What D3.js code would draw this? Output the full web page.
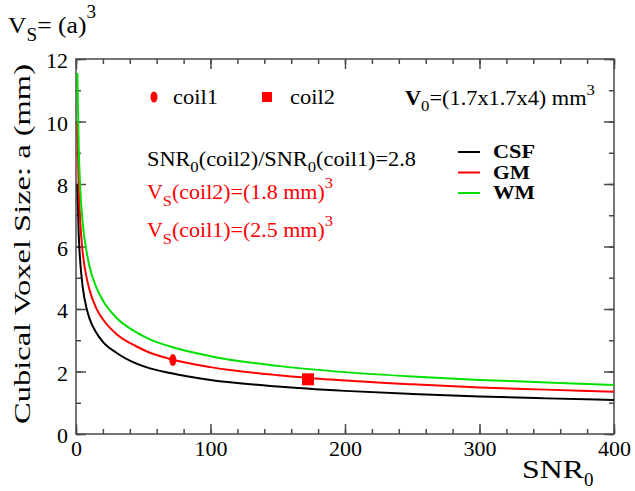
<!DOCTYPE html>
<html>
<head>
<meta charset="utf-8">
<script src="https://cdn.jsdelivr.net/npm/d3@7"></script>
<style>
  body { margin: 0; background: #fff; }
  text { font-family: "Liberation Serif", "Times New Roman", serif; }
</style>
</head>
<body>
<svg></svg>
<script>
let width = 635;
let height = 491;
let svg = d3.select("svg")
            .attr("width", width)
            .attr("height", height);

// values
let snr = [1, 2, 3, 5, 8, 10, 15, 20, 30, 45, 55, 70, 100, 150, 200, 250, 300, 350, 400];
let csf = [8.0, 6.4, 5.6, 4.7, 4.0, 3.7, 3.25, 2.95, 2.6, 2.25, 2.1, 1.95, 1.73, 1.52, 1.38, 1.28, 1.2, 1.14, 1.09];
let gm  = [9.95, 7.9, 6.9, 5.8, 4.98, 4.62, 4.03, 3.67, 3.2, 2.8, 2.6, 2.4, 2.14, 1.88, 1.71, 1.59, 1.49, 1.42, 1.35];
let wm  = [11.55, 9.2, 8.0, 6.75, 5.8, 5.37, 4.7, 4.27, 3.72, 3.25, 3.03, 2.8, 2.49, 2.18, 1.98, 1.84, 1.73, 1.65, 1.57];
let coil1 = [72, 2.37];
let coil2 = [172.5, 1.75];
let xTicks = [0, 100, 200, 300, 400];
let yTicks = [0, 2, 4, 6, 8, 10, 12];

let series = [
  { name: "CSF", color: "#000000", values: csf },
  { name: "GM",  color: "#ff0000", values: gm },
  { name: "WM",  color: "#00e000", values: wm }
];

let padLeft = 76, padRight = 614, padTop = 59, padBottom = 434;

let xScale = d3.scaleLinear().domain([0, 400]).range([padLeft, padRight]);
let yScale = d3.scaleLinear().domain([0, 12]).range([padBottom, padTop]);

let frame = "#4a4a4a";
let serif = "Liberation Serif";

// ticks on all four sides, pointing inward
let minorX = d3.range(0, 401, 20);
let minorY = d3.range(0, 13, 1);

function styleLabels(g) {
  g.attr("font-family", serif).attr("font-size", 22);
  g.select(".domain").remove();
  g.selectAll("text").attr("fill", "#000").style("font-family", serif);
}

svg.append("g")
   .attr("transform", "translate(0," + padBottom + ")")
   .call(d3.axisBottom(xScale).tickValues(minorX).tickSize(-5).tickFormat(""))
   .call(g => g.select(".domain").remove());
svg.append("g")
   .attr("transform", "translate(0," + padBottom + ")")
   .call(d3.axisBottom(xScale).tickValues(xTicks).tickSize(-10).tickPadding(6).tickFormat(d3.format("d")))
   .call(styleLabels);
svg.append("g")
   .attr("transform", "translate(0," + padTop + ")")
   .call(d3.axisTop(xScale).tickValues(minorX).tickSize(-5).tickFormat(""))
   .call(g => g.select(".domain").remove());
svg.append("g")
   .attr("transform", "translate(0," + padTop + ")")
   .call(d3.axisTop(xScale).tickValues(xTicks).tickSize(-10).tickFormat(""))
   .call(g => g.select(".domain").remove());

svg.append("g")
   .attr("transform", "translate(" + padLeft + ",0)")
   .call(d3.axisLeft(yScale).tickValues(minorY).tickSize(-5).tickFormat(""))
   .call(g => g.select(".domain").remove());
svg.append("g")
   .attr("transform", "translate(" + padLeft + ",0)")
   .call(d3.axisLeft(yScale).tickValues(yTicks).tickSize(-10).tickPadding(8).tickFormat(d3.format("d")))
   .call(styleLabels)
   .call(g => g.selectAll("text").attr("dy", "0.4em"));
svg.append("g")
   .attr("transform", "translate(" + padRight + ",0)")
   .call(d3.axisRight(yScale).tickValues(minorY).tickSize(-5).tickFormat(""))
   .call(g => g.select(".domain").remove());
svg.append("g")
   .attr("transform", "translate(" + padRight + ",0)")
   .call(d3.axisRight(yScale).tickValues(yTicks).tickSize(-10).tickFormat(""))
   .call(g => g.select(".domain").remove());

svg.selectAll(".tick line").attr("stroke", frame).attr("stroke-width", 1.5);

svg.append("rect")
   .attr("x", padLeft).attr("y", padTop)
   .attr("width", padRight - padLeft).attr("height", padBottom - padTop)
   .attr("fill", "none").attr("stroke", frame).attr("stroke-width", 1.5);

// curves
let line = d3.line()
             .x((d, i) => xScale(snr[i]))
             .y(d => yScale(d))
             .curve(d3.curveMonotoneX);

svg.selectAll(".curve")
   .data(series)
   .enter()
   .append("path")
   .attr("class", "curve")
   .attr("d", d => line(d.values))
   .attr("fill", "none")
   .attr("stroke", d => d.color)
   .attr("stroke-width", 2);

// coil markers
svg.append("ellipse")
   .attr("cx", xScale(coil1[0])).attr("cy", yScale(coil1[1]))
   .attr("rx", 3.5).attr("ry", 6)
   .attr("fill", "#ff0000");
svg.append("rect")
   .attr("x", xScale(coil2[0]) - 6).attr("y", yScale(coil2[1]) - 6)
   .attr("width", 12).attr("height", 12)
   .attr("fill", "#ff0000");

// stretched text helper, the original glyphs are wide
function label(x, y, size, len, fill) {
  return svg.append("text")
            .attr("x", x).attr("y", y)
            .attr("font-size", size)
            .attr("fill", fill || "#000")
            .attr("textLength", len)
            .attr("lengthAdjust", "spacingAndGlyphs");
}

// marker legend
svg.append("ellipse").attr("cx", 154).attr("cy", 97).attr("rx", 3.5).attr("ry", 5.5).attr("fill", "#ff0000");
label(173, 104, 20, 45).text("coil1");
svg.append("rect").attr("x", 262).attr("y", 92).attr("width", 10).attr("height", 10).attr("fill", "#ff0000");
label(290, 104, 20, 45).text("coil2");

// V0 note
let v0 = label(405, 105, 20, 190);
v0.append("tspan").attr("font-weight", "bold").text("V");
v0.append("tspan").attr("font-size", 15).attr("dy", 6).text("0");
v0.append("tspan").attr("dy", -6).text("=(1.7x1.7x4) mm");
v0.append("tspan").attr("font-size", 15).attr("dy", -10).text("3");

// ratio notes
let r = label(147, 166, 20, 269);
r.append("tspan").text("SNR");
r.append("tspan").attr("font-size", 15).attr("dy", 6).text("0");
r.append("tspan").attr("dy", -6).text("(coil2)/SNR");
r.append("tspan").attr("font-size", 15).attr("dy", 6).text("0");
r.append("tspan").attr("dy", -6).text("(coil1)=2.8");

let notes = [["(coil2)=(1.8 mm)", 199], ["(coil1)=(2.5 mm)", 237]];
notes.forEach(n => {
  let t = label(147, n[1], 20, 186, "#ff0000");
  t.append("tspan").text("V");
  t.append("tspan").attr("font-size", 15).attr("dy", 7).text("S");
  t.append("tspan").attr("dy", -7).text(n[0]);
  t.append("tspan").attr("font-size", 15).attr("dy", -11).text("3");
});

// line legend
let legend = svg.selectAll(".leg")
                .data(series)
                .enter()
                .append("g")
                .attr("class", "leg")
                .attr("transform", (d, i) => "translate(458," + (152 + i * 20.5) + ")");
legend.append("line").attr("x1", 0).attr("x2", 22)
      .attr("stroke", d => d.color).attr("stroke-width", 2);
legend.append("text").attr("x", 35).attr("y", 6).attr("font-size", 19)
      .attr("font-weight", "bold")
      .attr("textLength", d => d.name === "GM" ? 37 : 42)
      .attr("lengthAdjust", "spacingAndGlyphs")
      .text(d => d.name);

// axis titles
let vs = label(8, 33, 24, 88);
vs.append("tspan").text("V");
vs.append("tspan").attr("font-size", 18).attr("dy", 8).text("S");
vs.append("tspan").attr("dy", -8).text("= (a)");
vs.append("tspan").attr("font-size", 18).attr("dy", -15).text("3");

svg.append("text")
   .attr("transform", "translate(30,244) rotate(-90)")
   .attr("text-anchor", "middle")
   .attr("font-size", 23)
   .attr("textLength", 360)
   .attr("lengthAdjust", "spacingAndGlyphs")
   .text("Cubical Voxel Size:  a  (mm)");

let xt = svg.append("text").attr("x", 522).attr("y", 478).attr("font-size", 25);
xt.append("tspan").attr("textLength", 62).attr("lengthAdjust", "spacingAndGlyphs").text("SNR");
xt.append("tspan").attr("font-size", 19).attr("dy", 8).text("0");
</script>
</body>
</html>
